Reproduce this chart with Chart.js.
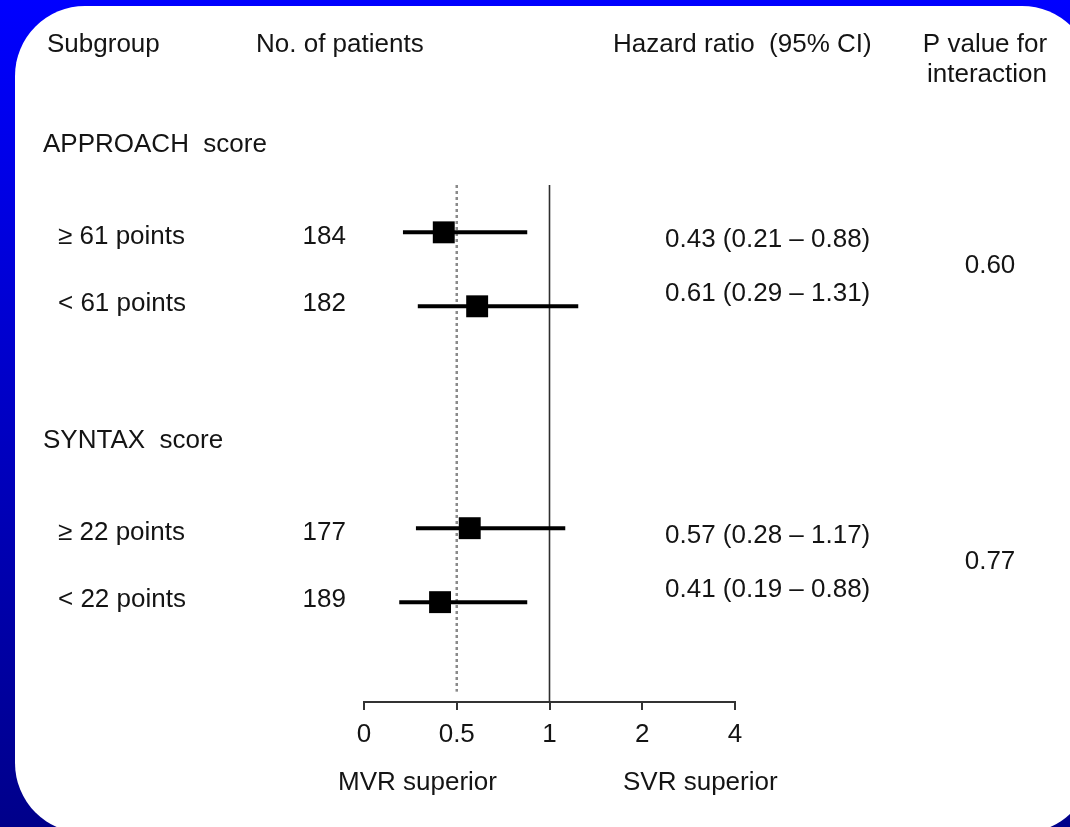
<!DOCTYPE html>
<html>
<head>
<meta charset="utf-8">
<script src="https://cdn.jsdelivr.net/npm/chart.js@4"></script>
<style>
  html, body { margin: 0; padding: 0; }
  body {
    width: 1070px; height: 827px; overflow: hidden; position: relative;
    background: linear-gradient(to bottom, #0000ff 0%, #0000c4 50%, #00008a 100%);
  }
  #panel {
    position: absolute; left: 15px; top: 6px; width: 1077px; height: 827px;
    background: #ffffff; border-radius: 70px;
  }
  #plot { position: absolute; left: 0; top: 0; }
</style>
</head>
<body>
<div id="panel"></div>
<canvas id="plot" width="1070" height="827"></canvas>
<script>
// Subgroup analysis: hazard ratios with 95% confidence intervals
const columnHeaders = ['Subgroup', 'No. of patients', 'Hazard ratio  (95% CI)'];
const pHeader = ['P value for', 'interaction'];
const groupNames = ['APPROACH  score', 'SYNTAX  score'];
const subgroupNames = ['\u2265 61 points', '< 61 points', '\u2265 22 points', '< 22 points'];
const patients = [184, 182, 177, 189];
const hazardRatio = [0.43, 0.61, 0.57, 0.41];
const ciLower = [0.21, 0.29, 0.28, 0.19];
const ciUpper = [0.88, 1.31, 1.17, 0.88];
const pInteraction = ['0.60', '0.77'];
const tickValues = [0, 0.5, 1, 2, 4];
const tickLabels = ['0', '0.5', '1', '2', '4'];
const sideLabels = ['MVR superior', 'SVR superior'];

// The axis places its labelled ticks evenly; values in between are interpolated per segment.
function toAxis(v) {
  for (let i = 0; i < tickValues.length - 1; i++) {
    const a = tickValues[i], b = tickValues[i + 1];
    if (v <= b) return i + (v - a) / (b - a);
  }
  return tickValues.length - 1;
}

// Two subgroups per group, with a gap row between groups.
const rowsPerGroup = 2;
function rowPos(i) {
  const g = Math.floor(i / rowsPerGroup);
  return g * 4 + (i % rowsPerGroup) + 1;
}

const Y_MIN = 0.36, Y_MAX = 7.35;
const FONT = '26px "Liberation Sans", Arial, sans-serif';
const INK = '#141414';

const datasets = [];

// point estimates
datasets.push({
  type: 'scatter',
  order: 0,
  data: hazardRatio.map((v, i) => ({ x: toAxis(v), y: rowPos(i) })),
  pointStyle: 'rect',
  pointRadius: 15.5,
  pointHoverRadius: 15.5,
  backgroundColor: '#000000',
  borderColor: '#000000',
  borderWidth: 0
});

// confidence intervals
hazardRatio.forEach((v, i) => {
  datasets.push({
    type: 'line',
    order: 1,
    data: [{ x: toAxis(ciLower[i]), y: rowPos(i) }, { x: toAxis(ciUpper[i]), y: rowPos(i) }],
    borderColor: '#000000',
    borderWidth: 4,
    pointRadius: 0,
    borderCapStyle: 'butt'
  });
});

// line of no effect
datasets.push({
  type: 'line',
  order: 2,
  data: [{ x: toAxis(1), y: Y_MIN }, { x: toAxis(1), y: Y_MAX }],
  borderColor: '#2e2e2e',
  borderWidth: 1.6,
  pointRadius: 0
});

// dotted guide at 0.5
datasets.push({
  type: 'line',
  order: 2,
  data: [{ x: toAxis(0.5), y: Y_MIN }, { x: toAxis(0.5), y: 7.21 }],
  borderColor: '#8a8a8a',
  borderWidth: 2.5,
  borderDash: [3, 3],
  pointRadius: 0
});

const tablePlugin = {
  id: 'tableText',
  afterDraw(chart) {
    const ctx = chart.ctx;
    const ys = chart.scales.y;
    const area = chart.chartArea;
    ctx.save();
    ctx.font = FONT;
    ctx.fillStyle = INK;
    ctx.textBaseline = 'alphabetic';

    // column headers
    ctx.textAlign = 'left';
    ctx.fillText(columnHeaders[0], 47, 52);
    ctx.fillText(columnHeaders[1], 256, 52);
    ctx.fillText(columnHeaders[2], 613, 52);
    ctx.textAlign = 'center';
    ctx.fillText(pHeader[0], 985, 52);
    ctx.fillText(pHeader[1], 987, 82);

    // group headings and P values
    groupNames.forEach((name, g) => {
      const first = ys.getPixelForValue(rowPos(g * rowsPerGroup));
      const second = ys.getPixelForValue(rowPos(g * rowsPerGroup + 1));
      ctx.textAlign = 'left';
      ctx.fillText(name, 43, first - 80);
      ctx.textAlign = 'center';
      ctx.fillText(pInteraction[g], 990, (first + second) / 2 + 4);
    });

    // subgroup rows
    subgroupNames.forEach((name, i) => {
      const y = ys.getPixelForValue(rowPos(i));
      const isFirst = i % rowsPerGroup === 0;
      const lblY = y + (isFirst ? 12 : 5);
      ctx.textAlign = 'left';
      ctx.fillText(name, 58, lblY);
      ctx.textAlign = 'right';
      ctx.fillText(String(patients[i]), 346, lblY);
      ctx.textAlign = 'left';
      const txt = hazardRatio[i].toFixed(2) + ' (' + ciLower[i].toFixed(2) + ' \u2013 ' + ciUpper[i].toFixed(2) + ')';
      ctx.fillText(txt, 665, y + (isFirst ? 15 : -5));
    });

    // direction labels under the axis
    ctx.textAlign = 'left';
    ctx.fillText(sideLabels[0], 338, area.bottom + 88);
    ctx.fillText(sideLabels[1], 623, area.bottom + 88);
    ctx.restore();
  }
};

new Chart(document.getElementById('plot'), {
  type: 'scatter',
  data: { datasets },
  options: {
    responsive: false,
    animation: false,
    events: [],
    layout: { padding: { left: 364, right: 335, top: 185, bottom: 0 } },
    plugins: { legend: { display: false }, tooltip: { enabled: false } },
    scales: {
      x: {
        type: 'linear',
        min: 0,
        max: tickValues.length - 1,
        afterFit(scale) { scale.height = 125; },
        afterBuildTicks(scale) {
          scale.ticks = tickValues.map((v, i) => ({ value: i }));
        },
        ticks: {
          autoSkip: false,
          maxRotation: 0,
          padding: 9,
          color: INK,
          font: { family: '"Liberation Sans", Arial, sans-serif', size: 26 },
          callback: (value) => tickLabels[value]
        },
        grid: {
          drawOnChartArea: false,
          drawTicks: true,
          tickLength: 8,
          color: '#333333',
          lineWidth: 2
        },
        border: { display: true, color: '#333333', width: 2 }
      },
      y: {
        type: 'linear',
        display: false,
        reverse: true,
        min: Y_MIN,
        max: Y_MAX
      }
    }
  },
  plugins: [tablePlugin]
});
</script>
</body>
</html>
